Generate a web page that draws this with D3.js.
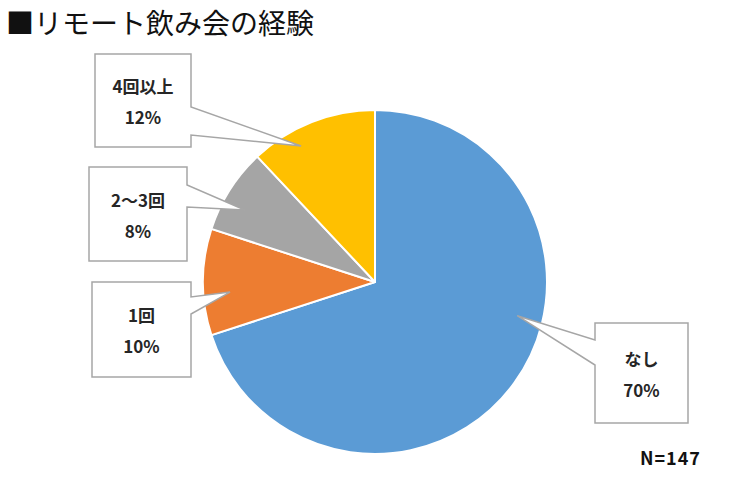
<!DOCTYPE html>
<html>
<head>
<meta charset="utf-8">
<script src="https://cdn.jsdelivr.net/npm/d3@7"></script>
<style>
  body { margin: 0; background: #fff; }
  text { font-family: "Noto Sans CJK JP", "Noto Sans", sans-serif; }
</style>
</head>
<body>
<script>
// data
var categories = ["なし", "1回", "2〜3回", "4回以上"];
var values = [70, 10, 8, 12];
var colors = ["#5B9BD5", "#ED7D31", "#A5A5A5", "#FFC000"];
var sampleLabel = "N=147";

// callout boxes (layout only)
var callouts = [
  {x: 595, y: 323, w: 93, h: 100, side: "left",  b0: 340, b1: 365, frac: 0.41, rf: 0.85},
  {x: 92,  y: 282, w: 99, h: 95,  side: "right", b0: 297, b1: 314, frac: 0.39, rf: 0.845},
  {x: 89,  y: 167, w: 98, h: 94,  side: "right", b0: 185, b1: 207, frac: 0.38, rf: 0.865},
  {x: 95,  y: 54,  w: 96, h: 93,  side: "right", b0: 107, b1: 135, frac: 0.34, rf: 0.9}
];

var width = 750, height = 500;
var cx = 375, cy = 282, radius = 172;

var svg = d3.select("body").append("svg")
  .attr("width", width)
  .attr("height", height);

svg.append("rect").attr("width", width).attr("height", height).attr("fill", "#fff");

svg.append("text")
  .attr("x", 6)
  .attr("y", 34)
  .attr("font-size", 28)
  .attr("fill", "#111")
  .text("■リモート飲み会の経験");

var pie = d3.pie().sort(null).value(function (d) { return d; });
var arcs = pie(values);

var arc = d3.arc().innerRadius(0).outerRadius(radius);

var g = svg.append("g").attr("transform", "translate(" + cx + "," + cy + ")");

g.selectAll("path")
  .data(arcs)
  .enter().append("path")
  .attr("d", arc)
  .attr("fill", function (d, i) { return colors[i]; })
  .attr("stroke", "#fff")
  .attr("stroke-width", 2)
  .attr("stroke-linejoin", "round");

// callouts
arcs.forEach(function (d, i) {
  var c = callouts[i];
  var a = d.startAngle + c.frac * (d.endAngle - d.startAngle);
  var tx = cx + Math.sin(a) * radius * c.rf,
      ty = cy - Math.cos(a) * radius * c.rf;
  var p = d3.path();
  if (c.side === "right") {
    p.moveTo(c.x, c.y);
    p.lineTo(c.x + c.w, c.y);
    p.lineTo(c.x + c.w, c.b0);
    p.lineTo(tx, ty);
    p.lineTo(c.x + c.w, c.b1);
    p.lineTo(c.x + c.w, c.y + c.h);
    p.lineTo(c.x, c.y + c.h);
    p.closePath();
  } else {
    p.moveTo(c.x, c.y);
    p.lineTo(c.x + c.w, c.y);
    p.lineTo(c.x + c.w, c.y + c.h);
    p.lineTo(c.x, c.y + c.h);
    p.lineTo(c.x, c.b1);
    p.lineTo(tx, ty);
    p.lineTo(c.x, c.b0);
    p.closePath();
  }
  svg.append("path")
    .attr("d", p.toString())
    .attr("fill", "#fff")
    .attr("stroke", "#A6A6A6")
    .attr("stroke-width", 1.5);

  var mx = c.x + c.w / 2, my = c.y + c.h / 2;
  svg.append("text")
    .attr("x", mx).attr("y", my - 15)
    .attr("text-anchor", "middle")
    .attr("dominant-baseline", "central")
    .attr("font-size", 17)
    .attr("font-weight", "bold")
    .attr("fill", "#262626")
    .text(categories[i]);
  svg.append("text")
    .attr("x", mx).attr("y", my + 16)
    .attr("text-anchor", "middle")
    .attr("dominant-baseline", "central")
    .attr("font-size", 17)
    .attr("font-weight", "bold")
    .attr("fill", "#262626")
    .text(values[i] + "%");
});

svg.append("text")
  .attr("x", 640)
  .attr("y", 465)
  .attr("font-size", 18)
  .attr("font-weight", "bold")
  .attr("letter-spacing", 1)
  .attr("fill", "#111")
  .text(sampleLabel);
</script>
</body>
</html>
